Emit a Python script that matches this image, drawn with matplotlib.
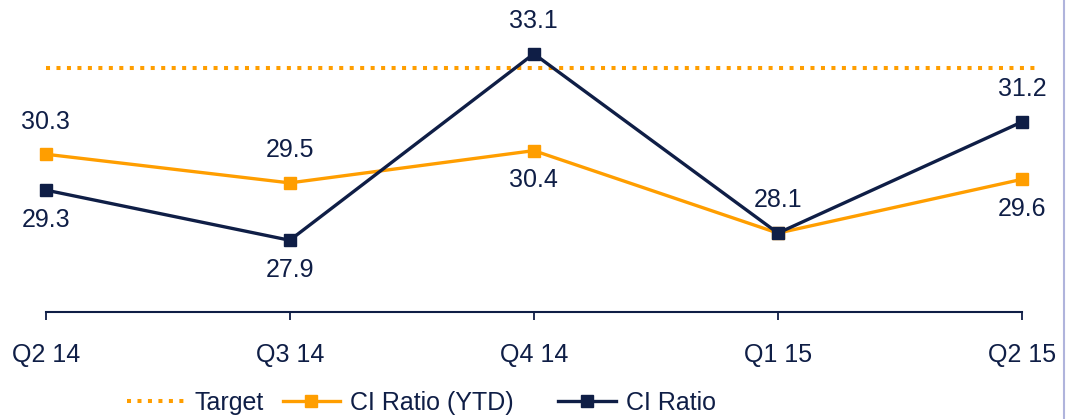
import matplotlib.pyplot as plt
from matplotlib.lines import Line2D

# data
quarters = ["Q2 14", "Q3 14", "Q4 14", "Q1 15", "Q2 15"]
ci_ratio_ytd = [30.3, 29.5, 30.4, 28.1, 29.6]
ci_ratio = [29.3, 27.9, 33.1, 28.1, 31.2]
target = 32.7

navy = "#0f1e46"
orange = "#ff9e00"

plt.rcParams["font.family"] = ["Liberation Sans", "DejaVu Sans"]
plt.rcParams["font.size"] = 18
plt.rcParams["text.color"] = navy

fig = plt.figure(figsize=(10.74, 4.19), dpi=100)
ax = fig.add_axes([45.7 / 1074, 1 - 312 / 419, (1022 - 45.7) / 1074, 312 / 419])

x = list(range(len(quarters)))

ax.plot([x[0], x[-1] + 0.075], [target, target], color=orange, lw=2.9,
        linestyle=(0, (1, 1.6)), dash_capstyle="butt", clip_on=False)
ax.plot(x, ci_ratio_ytd, color=orange, lw=2.4, marker="s", ms=8.5,
        clip_on=False, zorder=3)
ax.plot(x, ci_ratio, color=navy, lw=2.4, marker="s", ms=8.5,
        clip_on=False, zorder=4)

# value labels: the higher series gets its label above, the lower below
for i in x:
    a, b = ci_ratio_ytd[i], ci_ratio[i]
    if a == b:
        ax.annotate(f"{b:.1f}", (i, b), xytext=(0, 24), textcoords="offset points",
                    ha="center", va="center")
        continue
    hi, lo = (a, b) if a > b else (b, a)
    ax.annotate(f"{hi:.1f}", (i, hi), xytext=(0, 23.5), textcoords="offset points",
                ha="center", va="center")
    ax.annotate(f"{lo:.1f}", (i, lo), xytext=(0, -21.5), textcoords="offset points",
                ha="center", va="center")

ax.set_xlim(0, 4)
ax.set_ylim(25.9, 34.6)
ax.set_xticks(x)
ax.set_xticklabels(quarters)
ax.set_yticks([])
for s in ["top", "right", "left"]:
    ax.spines[s].set_visible(False)
ax.spines["bottom"].set_color(navy)
ax.spines["bottom"].set_linewidth(1.5)
ax.tick_params(axis="x", direction="out", length=6, width=1.3, color=navy,
               labelcolor=navy, pad=16)

h_target = Line2D([], [], color=orange, lw=2.9, linestyle=(0, (1, 1.6)), dash_capstyle="butt")
h_ytd = Line2D([], [], color=orange, lw=2.4, marker="s", ms=8.5)
h_ci = Line2D([], [], color=navy, lw=2.4, marker="s", ms=8.5)

leg_kw = dict(frameon=False, loc="center left", borderpad=0, borderaxespad=0,
              handlelength=2.3, handletextpad=0.4, columnspacing=0.75)
leg1 = fig.legend([h_target, h_ytd], ["Target", "CI Ratio (YTD)"], ncol=2,
                  bbox_to_anchor=(127 / 1074, 1 - 403 / 419), **leg_kw)
fig.legend([h_ci], ["CI Ratio"], ncol=1,
           bbox_to_anchor=(558 / 1074, 1 - 403 / 419), **leg_kw)

# thin border line on the right edge
fig.add_artist(Line2D([1063.5 / 1074, 1063.5 / 1074], [0, 1], color="#b0b4dc", lw=1.5))

fig.savefig("out.png", dpi=100)
